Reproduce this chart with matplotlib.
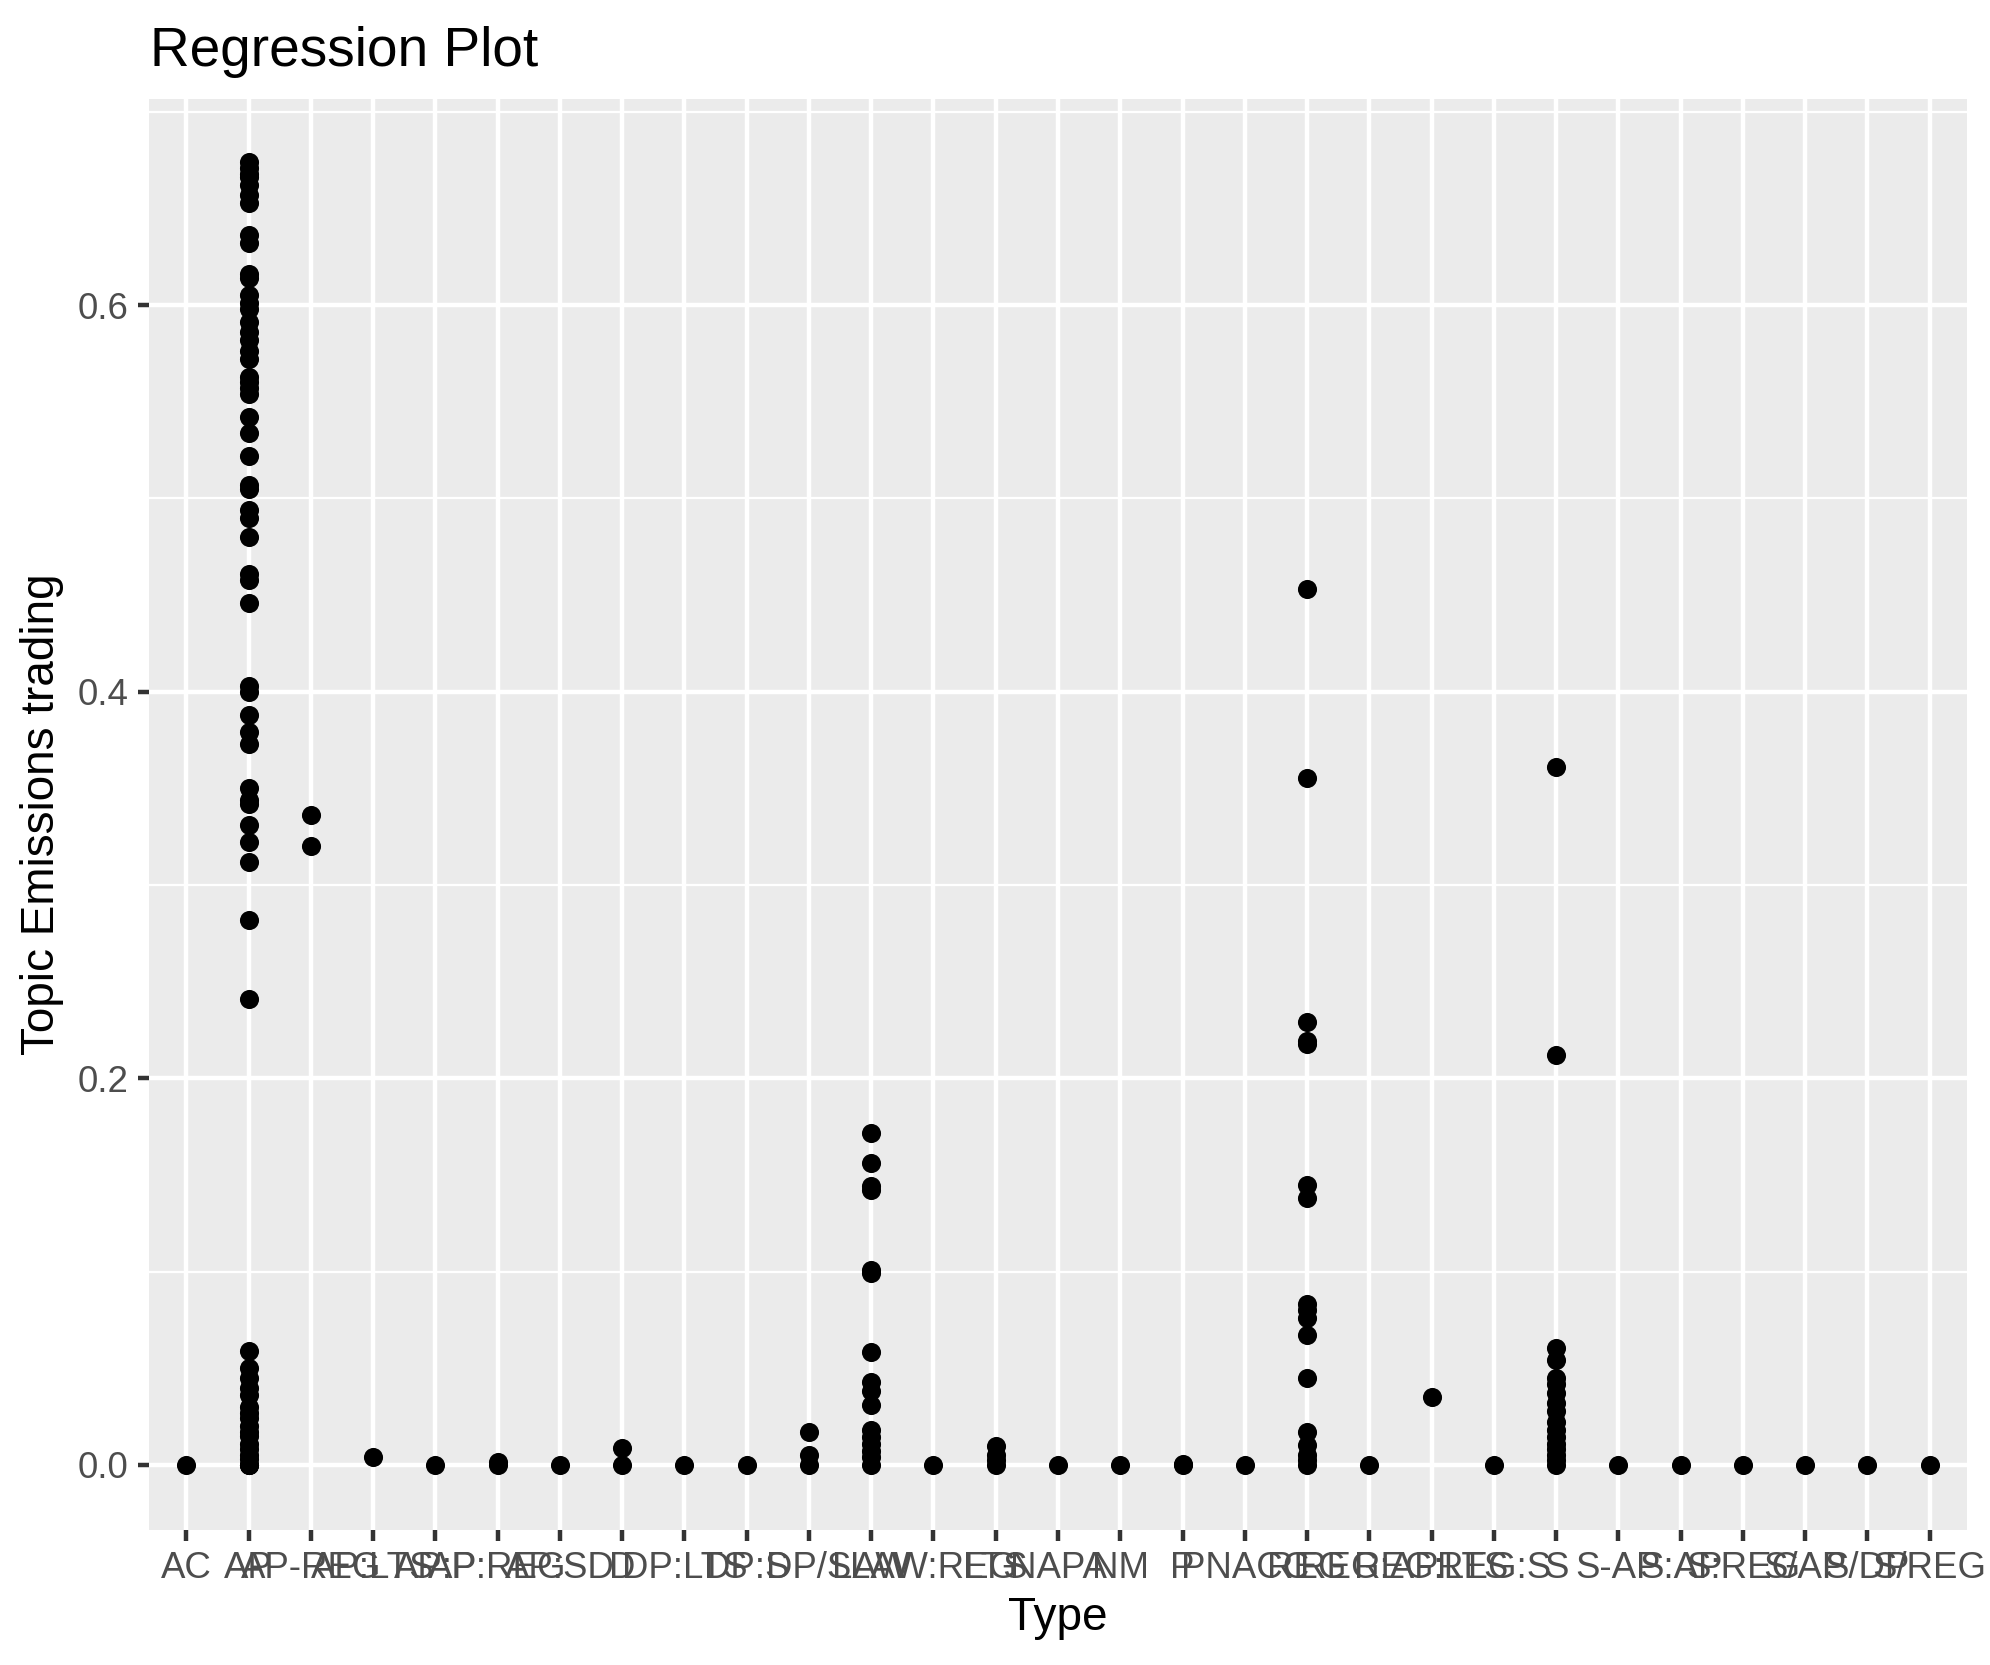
import matplotlib
matplotlib.use("Agg")
import matplotlib.pyplot as plt
from matplotlib.ticker import FixedLocator, FormatStrFormatter

plt.rcParams['font.family'] = ['Liberation Sans', 'DejaVu Sans']

# categories on the x axis (as in the reference, in order)
types = ["AC", "AP", "AP-REG", "AP:LTS", "AP:P", "AP:REG", "AP:SD", "D",
         "DP:LTS", "DP:S", "DP/S", "LAW", "LAW:REG", "LTS", "NAPA", "NM",
         "P", "PNACC", "REG", "REG:AP", "REG:LTS", "REG:S", "S", "S-AP",
         "S:AP", "S:REG", "S/AP", "S/DP", "S/REG"]

# topic share values
ap_vals = [0.674, 0.671, 0.668, 0.666, 0.662, 0.657, 0.653, 0.636, 0.632,
           0.616, 0.614, 0.605, 0.601, 0.598, 0.591, 0.586, 0.582, 0.576,
           0.572, 0.563, 0.560, 0.557, 0.554, 0.542, 0.534, 0.522, 0.507,
           0.505, 0.494, 0.490, 0.480, 0.461, 0.458, 0.446, 0.403, 0.400,
           0.388, 0.379, 0.373, 0.350, 0.344, 0.342, 0.331, 0.322, 0.312,
           0.282, 0.241,
           0.059, 0.050, 0.045, 0.040, 0.036, 0.030, 0.027, 0.024, 0.020,
           0.017, 0.015, 0.011, 0.008, 0.005, 0.003, 0.0, 0.0, 0.0]
ap_reg_vals = [0.336, 0.320]
ap_lts_vals = [0.004]
ap_reg2_vals = [0.0, 0.0015]
d_vals = [0.0085, 0.0]
dp_s2_vals = [0.017, 0.005, 0.0]
law_vals = [0.1715, 0.156, 0.1445, 0.142, 0.101, 0.099, 0.0585, 0.043,
            0.038, 0.031, 0.018, 0.0145, 0.011, 0.007, 0.004, 0.0]
lts_vals = [0.010, 0.005, 0.0026, 0.0]
p_vals = [0.0, 0.0005]
reg_vals = [0.453, 0.3555, 0.229, 0.2195, 0.2175, 0.145, 0.138, 0.083,
            0.080, 0.076, 0.067, 0.045, 0.017, 0.0105, 0.005, 0.0026, 0.0]
reg_lts_vals = [0.035]
s_vals = [0.361, 0.212, 0.0605, 0.054, 0.045, 0.042, 0.037, 0.032, 0.028,
          0.022, 0.018, 0.0145, 0.011, 0.008, 0.005, 0.0026, 0.0]

values = {t: [0.0] for t in types}
values["AP"] = ap_vals
values["AP-REG"] = ap_reg_vals
values["AP:LTS"] = ap_lts_vals
values["AP:REG"] = ap_reg2_vals
values["D"] = d_vals
values["DP/S"] = dp_s2_vals
values["LAW"] = law_vals
values["LTS"] = lts_vals
values["P"] = p_vals
values["REG"] = reg_vals
values["REG:LTS"] = reg_lts_vals
values["S"] = s_vals

xs, ys = [], []
for t in types:
    for v in values[t]:
        xs.append(t)
        ys.append(v)

fig = plt.figure(figsize=(1990 / 300, 1665 / 300), dpi=300)
ax = fig.add_axes([149 / 1990, 1 - 1530 / 1665, 1818 / 1990, 1431 / 1665])
ax.set_facecolor("#EBEBEB")

ax.scatter(xs, ys, s=21, color="black", linewidths=0, zorder=3)

ax.set_xlim(-0.6, len(types) - 0.4)
ax.set_ylim(-0.0337, 0.7066)

ax.yaxis.set_major_locator(FixedLocator([0.0, 0.2, 0.4, 0.6]))
ax.yaxis.set_minor_locator(FixedLocator([0.1, 0.3, 0.5, 0.7]))
ax.yaxis.set_major_formatter(FormatStrFormatter("%.1f"))

ax.grid(which="major", color="white", linewidth=1.07, zorder=0)
ax.grid(which="minor", axis="y", color="white", linewidth=0.53, zorder=0)
ax.set_axisbelow(True)

for sp in ax.spines.values():
    sp.set_visible(False)

ax.tick_params(which="major", length=2.75, width=1.07, color="#333333",
               labelsize=8.8, labelcolor="#4D4D4D", pad=2.2)
ax.tick_params(which="minor", length=0)

fig.text(150 / 1990, 1 - 66 / 1665, "Regression Plot", fontsize=13.2,
         ha="left", va="baseline")
fig.text(42 / 1990, 1 - 814 / 1665, "Topic Emissions trading", fontsize=11,
         rotation=90, ha="center", va="center")
fig.text(1058 / 1990, 1 - 1630 / 1665, "Type", fontsize=11,
         ha="center", va="baseline")

fig.savefig("out.png", dpi=300)
